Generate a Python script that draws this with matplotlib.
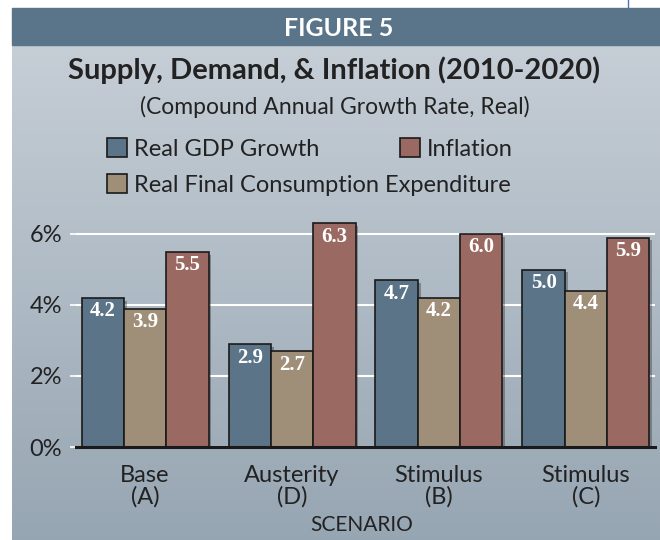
import numpy as np
import matplotlib
matplotlib.use("Agg")
import matplotlib.pyplot as plt
import matplotlib.patheffects as pe
from matplotlib.patches import Rectangle

# data
scenarios = ["Base\n(A)", "Austerity\n(D)", "Stimulus\n(B)", "Stimulus\n(C)"]
gdp = [4.2, 2.9, 4.7, 5.0]
consumption = [3.9, 2.7, 4.2, 4.4]
inflation = [5.5, 6.3, 6.0, 5.9]
yticks = [0, 2, 4, 6]
ytick_labels = ["0%", "2%", "4%", "6%"]
series_names = ["Real GDP Growth", "Real Final Consumption Expenditure", "Inflation"]

blue = "#5b7488"
tan = "#a08f78"
red = "#9a6a62"
header = "#5a7489"
ink = "#222222"

plt.rcParams["font.family"] = ["Lato", "DejaVu Sans"]

fig = plt.figure(figsize=(6.6, 5.4), dpi=100)
W, H = 660, 540

# gradient panel background
bg = fig.add_axes([12 / W, 0, 1 - 12 / W, 1 - 8 / H])
grad = np.linspace(0, 1, 256).reshape(-1, 1)
top = np.array([0.79, 0.82, 0.85])
bot = np.array([0.59, 0.65, 0.70])
img = top + (bot - top) * grad[:, :, None]
bg.imshow(img, aspect="auto", extent=[0, 1, 0, 1])
bg.axis("off")

# header strip
fig.patches.append(Rectangle((12 / W, 1 - 45 / H), 1 - 12 / W, 37 / H,
                             transform=fig.transFigure, color=header, zorder=1))
fig.lines.append(plt.Line2D([628 / W, 628 / W], [1, 1 - 8 / H], transform=fig.transFigure,
                            color="#4a78b0", lw=1))

fig.text(339 / W, 1 - 36 / H, "FIGURE 5", color="white", fontsize=18, fontweight="bold",
         ha="center", va="baseline")
fig.text(334 / W, 1 - 79 / H, "Supply, Demand, & Inflation (2010-2020)", color=ink,
         fontsize=21, fontweight="bold", ha="center", va="baseline")
fig.text(335 / W, 1 - 114 / H, "(Compound Annual Growth Rate, Real)", color=ink,
         fontsize=16.5, ha="center", va="baseline")

# legend drawn by hand to keep the reference's odd arrangement
legend_pos = [(107, 138), (107, 174), (400, 138)]
for (lx, ly), name, col in zip(legend_pos, series_names, [blue, tan, red]):
    fig.patches.append(Rectangle((lx / W, 1 - (ly + 19) / H), 20 / W, 19 / H,
                                 transform=fig.transFigure, facecolor=col,
                                 edgecolor="#1a1a1a", lw=1.2))
    fig.text((lx + 27) / W, 1 - (ly + 18) / H, name, color=ink, fontsize=17,
             ha="left", va="baseline")

ax = fig.add_axes([76 / W, 1 - 447 / H, (655 - 76) / W, (447 - 216.25) / H])
ax.patch.set_visible(False)

x = np.arange(len(scenarios))
w = 0.288
shadow = [pe.SimplePatchShadow(offset=(2, -2), alpha=0.35), pe.Normal()]
for off, vals, col in [(-w, gdp, blue), (0, consumption, tan), (w, inflation, red)]:
    bars = ax.bar(x + off, vals, w, color=col, edgecolor="#1a1a1a", linewidth=1.2, zorder=3)
    for b in bars:
        b.set_path_effects(shadow)
    for xi, v in zip(x + off, vals):
        ax.text(xi, v - 0.38, f"{v:.1f}", color="white", fontsize=15, fontweight="bold",
                family="Liberation Serif", ha="center", va="center", zorder=4)

ax.set_xlim(-0.47, 3.47)
ax.set_ylim(0, 6.5)
ax.set_yticks(yticks)
ax.set_yticklabels(ytick_labels, fontsize=17, color=ink)
ax.set_xticks(x)
ax.set_xticklabels(scenarios, fontsize=17, color=ink, linespacing=1.02)
ax.tick_params(axis="x", length=0, pad=13)
ax.tick_params(axis="y", length=4, color="white", width=1.2, pad=6)
ax.grid(axis="y", color="white", lw=1.5, zorder=1)
for s in ["top", "right", "left"]:
    ax.spines[s].set_visible(False)
ax.spines["bottom"].set_linewidth(2.2)
ax.spines["bottom"].set_color("#1a1a1a")
ax.spines["bottom"].set_zorder(5)

fig.text(362 / W, 1 - 531 / H, "SCENARIO", color=ink, fontsize=15,
         ha="center", va="baseline")

fig.savefig("out.png", dpi=100)
